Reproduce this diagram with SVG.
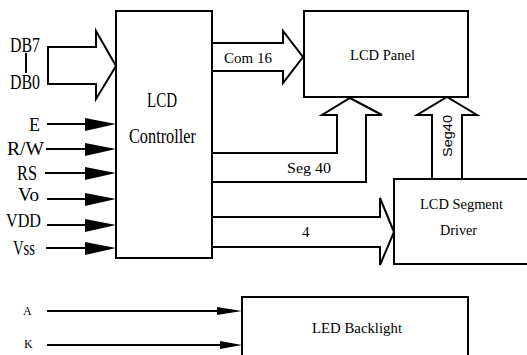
<svg xmlns="http://www.w3.org/2000/svg" width="527" height="355" viewBox="0 0 527 355">
<style>
.box{fill:#fff;stroke:#000;stroke-width:2}
.ln{fill:none;stroke:#000;stroke-width:2}
.hollow{fill:#fff;stroke:#000;stroke-width:2;stroke-linejoin:miter}
.head{fill:#000;stroke:none}
text{fill:#000}
</style>
<rect width="527" height="355" fill="#fff"/>
<g id="connectors">
  <polygon class="hollow" points="48,47 96,47 96,31 116,66 96,99 96,84 48,84"/>
  <line class="ln" x1="26" y1="53" x2="26" y2="73"/>
  <g>
    <line class="ln" x1="47" y1="124" x2="90" y2="124"/><polygon class="head" points="85,118 116,124 85,131"/>
    <line class="ln" x1="46" y1="149" x2="90" y2="149"/><polygon class="head" points="85,143 116,149 85,156"/>
    <line class="ln" x1="45" y1="173" x2="90" y2="173"/><polygon class="head" points="85,167 116,173 85,180"/>
    <line class="ln" x1="47" y1="199" x2="90" y2="199"/><polygon class="head" points="85,193 116,199 85,206"/>
    <line class="ln" x1="47" y1="225" x2="90" y2="225"/><polygon class="head" points="85,219 116,225 85,232"/>
    <line class="ln" x1="46" y1="248" x2="90" y2="248"/><polygon class="head" points="85,242 116,248 85,255"/>
  </g>
  <polyline class="hollow" points="212,43 283,43 283,31 303,57 283,83 283,71 212,71"/>
  <polyline class="hollow" points="212,153 337,153 337,115 322,115 350,98 382,115 366,115 366,182 212,182"/>
  <polyline class="hollow" points="432,179 432,115 417,115 447,97 477,115 462,115 462,179"/>
  <polyline class="hollow" points="212,217 380,217 380,198 394,232 380,265 380,247 212,247"/>
  <line class="ln" x1="47" y1="311" x2="222" y2="311"/><polygon class="head" points="217,307 242,311 217,315"/>
  <line class="ln" x1="47" y1="345" x2="224" y2="345"/><polygon class="head" points="220,341 242,345 220,349"/>
</g>
<g font-family="'Liberation Serif', 'Times New Roman', serif">
<g id="controller">
  <rect class="box" x="116" y="11" width="96" height="247"/>
  <text x="147" y="107" font-size="20" textLength="30" lengthAdjust="spacingAndGlyphs">LCD</text>
  <text x="129" y="143" font-size="20" textLength="67" lengthAdjust="spacingAndGlyphs">Controller</text>
</g>
<g id="panel">
  <rect class="box" x="304" y="11" width="164" height="86"/>
  <text x="350" y="60" font-size="14.5" textLength="65" lengthAdjust="spacingAndGlyphs">LCD Panel</text>
</g>
<g id="segdriver">
  <rect class="box" x="394" y="179" width="150" height="85"/>
  <text x="420" y="209" font-size="14.5" textLength="83" lengthAdjust="spacingAndGlyphs">LCD Segment</text>
  <text x="440" y="235" font-size="14.5" textLength="37" lengthAdjust="spacingAndGlyphs">Driver</text>
</g>
<g id="backlight">
  <rect class="box" x="242" y="297" width="226" height="70"/>
  <text x="312" y="333" font-size="14.5" textLength="90" lengthAdjust="spacingAndGlyphs">LED Backlight</text>
</g>
<g id="labels">
  <text x="10" y="52" font-size="20" textLength="30" lengthAdjust="spacingAndGlyphs">DB7</text>
  <text x="10" y="89" font-size="20" textLength="30" lengthAdjust="spacingAndGlyphs">DB0</text>
  <text x="29" y="131" font-size="18" textLength="11" lengthAdjust="spacingAndGlyphs">E</text>
  <text x="7" y="155" font-size="18" textLength="37" lengthAdjust="spacingAndGlyphs">R/W</text>
  <text x="17" y="180" font-size="20" textLength="20" lengthAdjust="spacingAndGlyphs">RS</text>
  <text x="18" y="201" font-size="19" textLength="21" lengthAdjust="spacingAndGlyphs">Vo</text>
  <text x="6" y="227" font-size="19" textLength="35" lengthAdjust="spacingAndGlyphs">VDD</text>
  <text x="13" y="255" font-size="20" textLength="22" lengthAdjust="spacingAndGlyphs">Vss</text>
  <text x="224" y="63" font-size="15" textLength="48" lengthAdjust="spacingAndGlyphs">Com 16</text>
  <text x="287" y="173" font-size="15" textLength="44" lengthAdjust="spacingAndGlyphs">Seg 40</text>
  <text x="302" y="237" font-size="15">4</text>
  <text font-family="'Liberation Sans', Arial, sans-serif" font-size="13.5" text-anchor="middle" transform="translate(452,136) rotate(-90)" textLength="42" lengthAdjust="spacingAndGlyphs">Seg40</text>
  <text x="23" y="315" font-size="12">A</text>
  <text x="24" y="348" font-size="12">K</text>
</g>
</g>
</svg>
